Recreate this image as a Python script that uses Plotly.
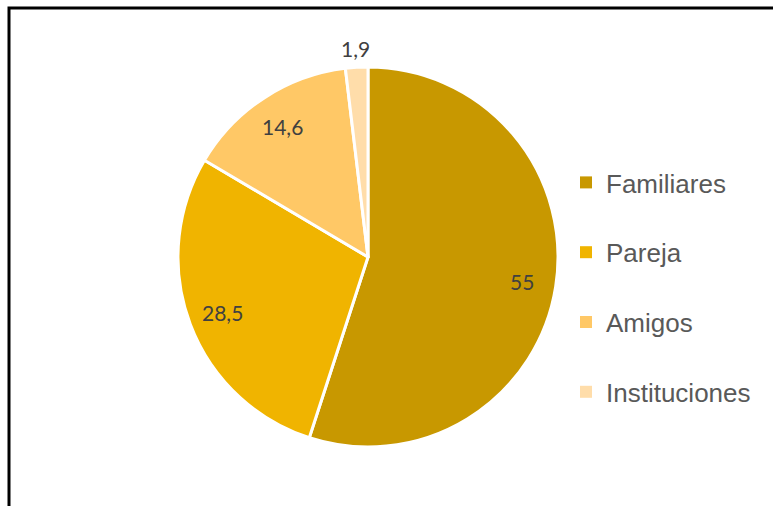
import math
import plotly.graph_objects as go

# Share of support sources (%)
categories = ["Familiares", "Pareja", "Amigos", "Instituciones"]
values = [55, 28.5, 14.6, 1.9]
colors = ["#C89800", "#F0B400", "#FFC866", "#FFDDAA"]

W, H = 773, 506
cx, cy, r = 368, 257, 190  # pie centre and radius in pixels

fig = go.Figure()

fig.add_trace(go.Pie(
    labels=categories,
    values=values,
    sort=False,
    direction="clockwise",
    rotation=0,
    marker=dict(colors=colors, line=dict(color="white", width=3)),
    textinfo="none",
    hoverinfo="label+value",
    showlegend=False,
    domain=dict(x=[(cx - r) / W, (cx + r) / W], y=[1 - (cy + r) / H, 1 - (cy - r) / H]),
))

# Legend entries (one group each so the gap between them can be set)
for name, col in zip(categories, colors):
    fig.add_trace(go.Scatter(
        x=[None], y=[None], mode="markers", name=name,
        legendgroup=name,
        marker=dict(symbol="square", size=10, color=col),
    ))

# Value labels placed along each slice's mid angle
total = sum(values)
cum = 0.0
annotations = []
for v in values:
    mid = (cum + v / 2) / total * 2 * math.pi
    cum += v
    frac = v / total
    k = 0.82 if frac > 0.05 else 1.1
    px = cx + k * r * math.sin(mid)
    py = cy - k * r * math.cos(mid)
    annotations.append(dict(
        x=px / W, y=1 - py / H, xref="paper", yref="paper",
        text=f"{v:g}".replace(".", ","), showarrow=False,
        font=dict(family="Lato", size=21, color="#404040"),
        xanchor="center", yanchor="middle",
    ))

fig.update_layout(
    width=W, height=H,
    margin=dict(l=0, r=0, t=0, b=0),
    paper_bgcolor="white", plot_bgcolor="white",
    xaxis=dict(visible=False), yaxis=dict(visible=False),
    annotations=annotations,
    legend=dict(
        x=566 / W, y=1 - 159 / H, xanchor="left", yanchor="top",
        font=dict(family="Liberation Sans", size=26, color="#595959"),
        tracegroupgap=33, itemsizing="constant", bgcolor="rgba(0,0,0,0)",
    ),
    shapes=[dict(
        type="rect", xref="paper", yref="paper",
        x0=9 / W, y0=-0.1, x1=1.1, y1=1 - 8 / H,
        line=dict(color="black", width=3),
    )],
)

fig.write_html("out.html")
